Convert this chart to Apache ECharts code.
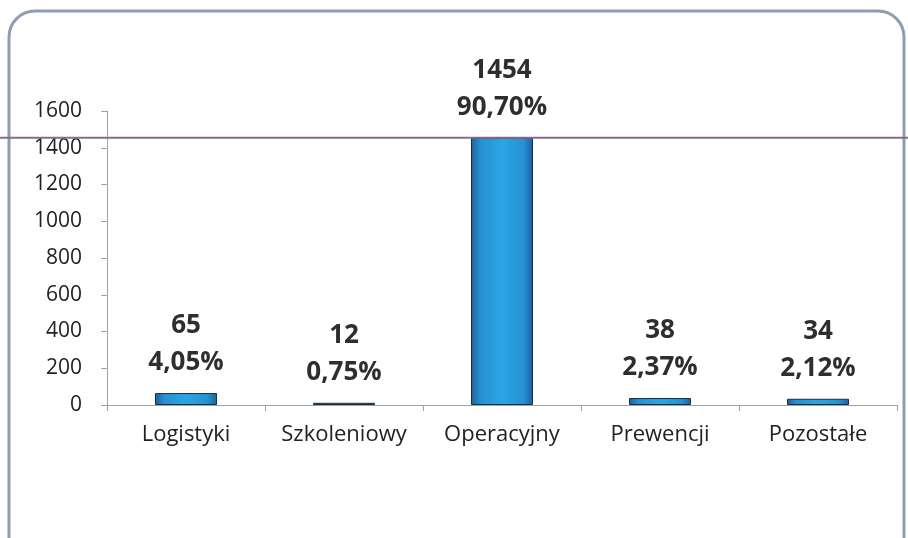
<!DOCTYPE html>
<html><head><meta charset="utf-8">
<script src="https://cdn.jsdelivr.net/npm/echarts@6/dist/echarts.min.js"></script>
<style>html,body{margin:0;padding:0;background:#fff}#c{width:908px;height:538px}</style>
</head><body><div id="c"></div>
<script>
const categories = ['Logistyki', 'Szkoleniowy', 'Operacyjny', 'Prewencji', 'Pozostałe'];
const values = [65, 12, 1454, 38, 34];
const percents = ['4,05%', '0,75%', '90,70%', '2,37%', '2,12%'];
const yTicks = [0, 200, 400, 600, 800, 1000, 1200, 1400, 1600];

const chart = echarts.init(document.getElementById('c'));
const FONT = 'Open Sans';
chart.setOption({
  animation: false,
  backgroundColor: '#fff',
  grid: { left: 107, right: 11, top: 111, bottom: 133, containLabel: false },
  xAxis: {
    type: 'category', data: categories,
    axisLine: { lineStyle: { color: '#9aa4ad', width: 1 } },
    axisTick: { show: true, length: 6, lineStyle: { color: '#9aa4ad' } },
    axisLabel: { color: '#222', fontFamily: FONT, fontSize: 22, margin: 19,
      interval: 0, hideOverlap: false }
  },
  yAxis: {
    type: 'value', min: yTicks[0], max: yTicks[yTicks.length - 1], interval: 200,
    axisLine: { show: true, lineStyle: { color: '#9aa4ad', width: 1 } },
    axisTick: { show: true, length: 6, lineStyle: { color: '#9aa4ad' } },
    splitLine: { show: false },
    axisLabel: { color: '#222', fontFamily: FONT, fontSize: 21, margin: 25,
      formatter: v => String(v) }
  },
  series: [{
    type: 'bar',
    data: values,
    barWidth: 62,
    itemStyle: {
      color: new echarts.graphic.LinearGradient(0, 0, 1, 0, [
        { offset: 0, color: '#1f5f9c' },
        { offset: 0.15, color: '#2690d2' },
        { offset: 0.5, color: '#2aa6e4' },
        { offset: 0.85, color: '#2690d2' },
        { offset: 1, color: '#1f5f9c' }
      ]),
      borderColor: '#1c2d40', borderWidth: 1
    },
    label: {
      show: true, position: 'top', distance: 12,
      fontFamily: FONT, fontWeight: 'bold', fontSize: 26, color: '#2e2e2e',
      lineHeight: 37,
      formatter: p => values[p.dataIndex] + '\n' + percents[p.dataIndex]
    }
  }]
});
const yLine = chart.convertToPixel({ yAxisIndex: 0 }, values[2]);
chart.setOption({
  graphic: [
    { type: 'rect', shape: { x: 9, y: 11, width: 895, height: 560, r: 26 },
      style: { fill: 'none', stroke: '#8d9db3', lineWidth: 3 }, z: 100 },
    { type: 'line', shape: { x1: 0, y1: yLine, x2: 908, y2: yLine },
      style: { stroke: '#8a6a86', lineWidth: 2 }, z: 100 }
  ]
});
</script></body></html>
